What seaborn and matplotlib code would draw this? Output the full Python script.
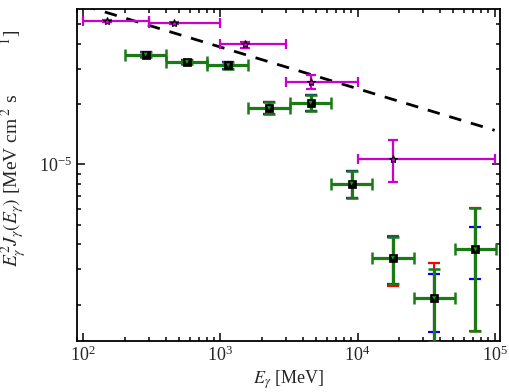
import numpy as np
import matplotlib
matplotlib.use('Agg')
import matplotlib.pyplot as plt
import matplotlib.ticker as mticker
import seaborn as sns

sns.set_style("ticks")
plt.rcParams['font.family'] = ['Liberation Serif', 'DejaVu Serif']
plt.rcParams['mathtext.fontset'] = 'stix'

# magenta points (stars)
mag_E = [150, 460, 1500, 4600, 18000]
mag_lo = [100, 300, 1000, 3000, 10000]
mag_hi = [300, 1000, 3000, 10000, 100000]
mag_flux = [5.18e-5, 5.09e-5, 3.97e-5, 2.58e-5, 1.07e-5]
mag_err_lo = [0.06e-5, 0.06e-5, 0.15e-5, 0.21e-5, 0.25e-5]
mag_err_hi = [0.06e-5, 0.06e-5, 0.12e-5, 0.21e-5, 0.26e-5]

# green points (squares)
grn_E = [285, 570, 1140, 2265, 4550, 9050, 18100, 36200, 72400]
grn_lo = [200, 400, 800, 1600, 3200, 6400, 12800, 25600, 51200]
grn_hi = [400, 800, 1600, 3200, 6400, 12800, 25600, 51200, 102400]
grn_flux = [3.53e-5, 3.24e-5, 3.12e-5, 1.91e-5, 2.03e-5, 8.04e-6, 3.43e-6, 2.16e-6, 3.78e-6]
grn_err = [0.10e-5, 0.08e-5, 0.12e-5, 0.13e-5, 0.19e-5, 1.23e-6, 0.90e-6, 0.85e-6, 2.30e-6]
red_err = [0.10e-5, 0.08e-5, 0.12e-5, 0.13e-5, 0.19e-5, 1.23e-6, 0.95e-6, 1.08e-6, 2.30e-6]
blue_err = [0.10e-5, 0.08e-5, 0.12e-5, 0.13e-5, 0.19e-5, 1.23e-6, 0.90e-6, 0.69e-6, 1.08e-6]

# dashed reference line (power law endpoints)
line_E = [100, 1e5]
line_flux = [6.2e-5, 1.48e-5]

fig, ax = plt.subplots(figsize=(5.1, 3.92), dpi=100)
fig.subplots_adjust(left=0.151, right=0.980, top=0.977, bottom=0.130)
ax.set_xscale('log')
ax.set_yscale('log')

sns.lineplot(x=line_E, y=line_flux, ax=ax, color='black', linewidth=2.0,
             linestyle=(0, (4.5, 3.6)), zorder=2)

mag_E = np.array(mag_E)
ax.errorbar(mag_E, mag_flux, xerr=[mag_E - np.array(mag_lo), np.array(mag_hi) - mag_E],
            yerr=[mag_err_lo, mag_err_hi], fmt='none', ecolor='#cc00cc',
            elinewidth=1.6, capsize=3.5, capthick=1.6, zorder=3)
ax.plot(mag_E, mag_flux, ls='none', marker='*', ms=6, mfc='#cc00cc', mec='black',
        mew=0.8, zorder=4)

grn_E = np.array(grn_E)
xerr_g = [grn_E - np.array(grn_lo), np.array(grn_hi) - grn_E]
ax.errorbar(grn_E, grn_flux, yerr=red_err, fmt='none', ecolor='red',
            elinewidth=1.5, capsize=4.5, capthick=1.6, zorder=3)
ax.errorbar(grn_E, grn_flux, yerr=blue_err, fmt='none', ecolor='blue',
            elinewidth=1.5, capsize=4.5, capthick=1.6, zorder=3.1)
eb = ax.errorbar(grn_E, grn_flux, xerr=xerr_g, yerr=grn_err, fmt='none',
                 ecolor='#1a7a14', elinewidth=2.3, capsize=4.5, capthick=1.8, zorder=3.2)
for cap in eb[1]:
    cap.set_color('#4a5a22')

sns.scatterplot(x=grn_E, y=grn_flux, ax=ax, marker='s', s=40, color='black',
                edgecolor='black', zorder=5)
sns.scatterplot(x=grn_E, y=grn_flux, ax=ax, marker='v', s=8, color='#10a010',
                edgecolor='none', zorder=6)

ax.set_xlim(90, 1.09e5)
ax.set_ylim(1.32e-6, 5.95e-5)

ax.xaxis.set_major_locator(mticker.LogLocator(base=10, numticks=10))
ax.xaxis.set_minor_locator(mticker.LogLocator(base=10, subs=np.arange(2, 10), numticks=20))
ax.yaxis.set_major_locator(mticker.LogLocator(base=10, numticks=10))
ax.yaxis.set_minor_locator(mticker.LogLocator(base=10, subs=np.arange(2, 10), numticks=20))
ax.yaxis.set_minor_formatter(mticker.NullFormatter())
ax.xaxis.set_minor_formatter(mticker.NullFormatter())

ax.tick_params(which='both', direction='in', top=True, right=True, labelsize=13,
               width=1.1, color='black')
ax.tick_params(which='major', length=6)
ax.tick_params(which='minor', length=3)
for sp in ax.spines.values():
    sp.set_linewidth(1.3)
    sp.set_color('black')

ax.set_xlabel(r'$E_\gamma$ [MeV]', fontsize=13, labelpad=2)
ax.set_ylabel(r'$E_\gamma^2 J_\gamma(E_\gamma)$ [MeV cm$^{\;2}$ s$^{\qquad\qquad\quad\,1}$]',
              fontsize=14)
ax.yaxis.set_label_coords(-0.113, 0.581)

fig.savefig('out.png', dpi=100)
